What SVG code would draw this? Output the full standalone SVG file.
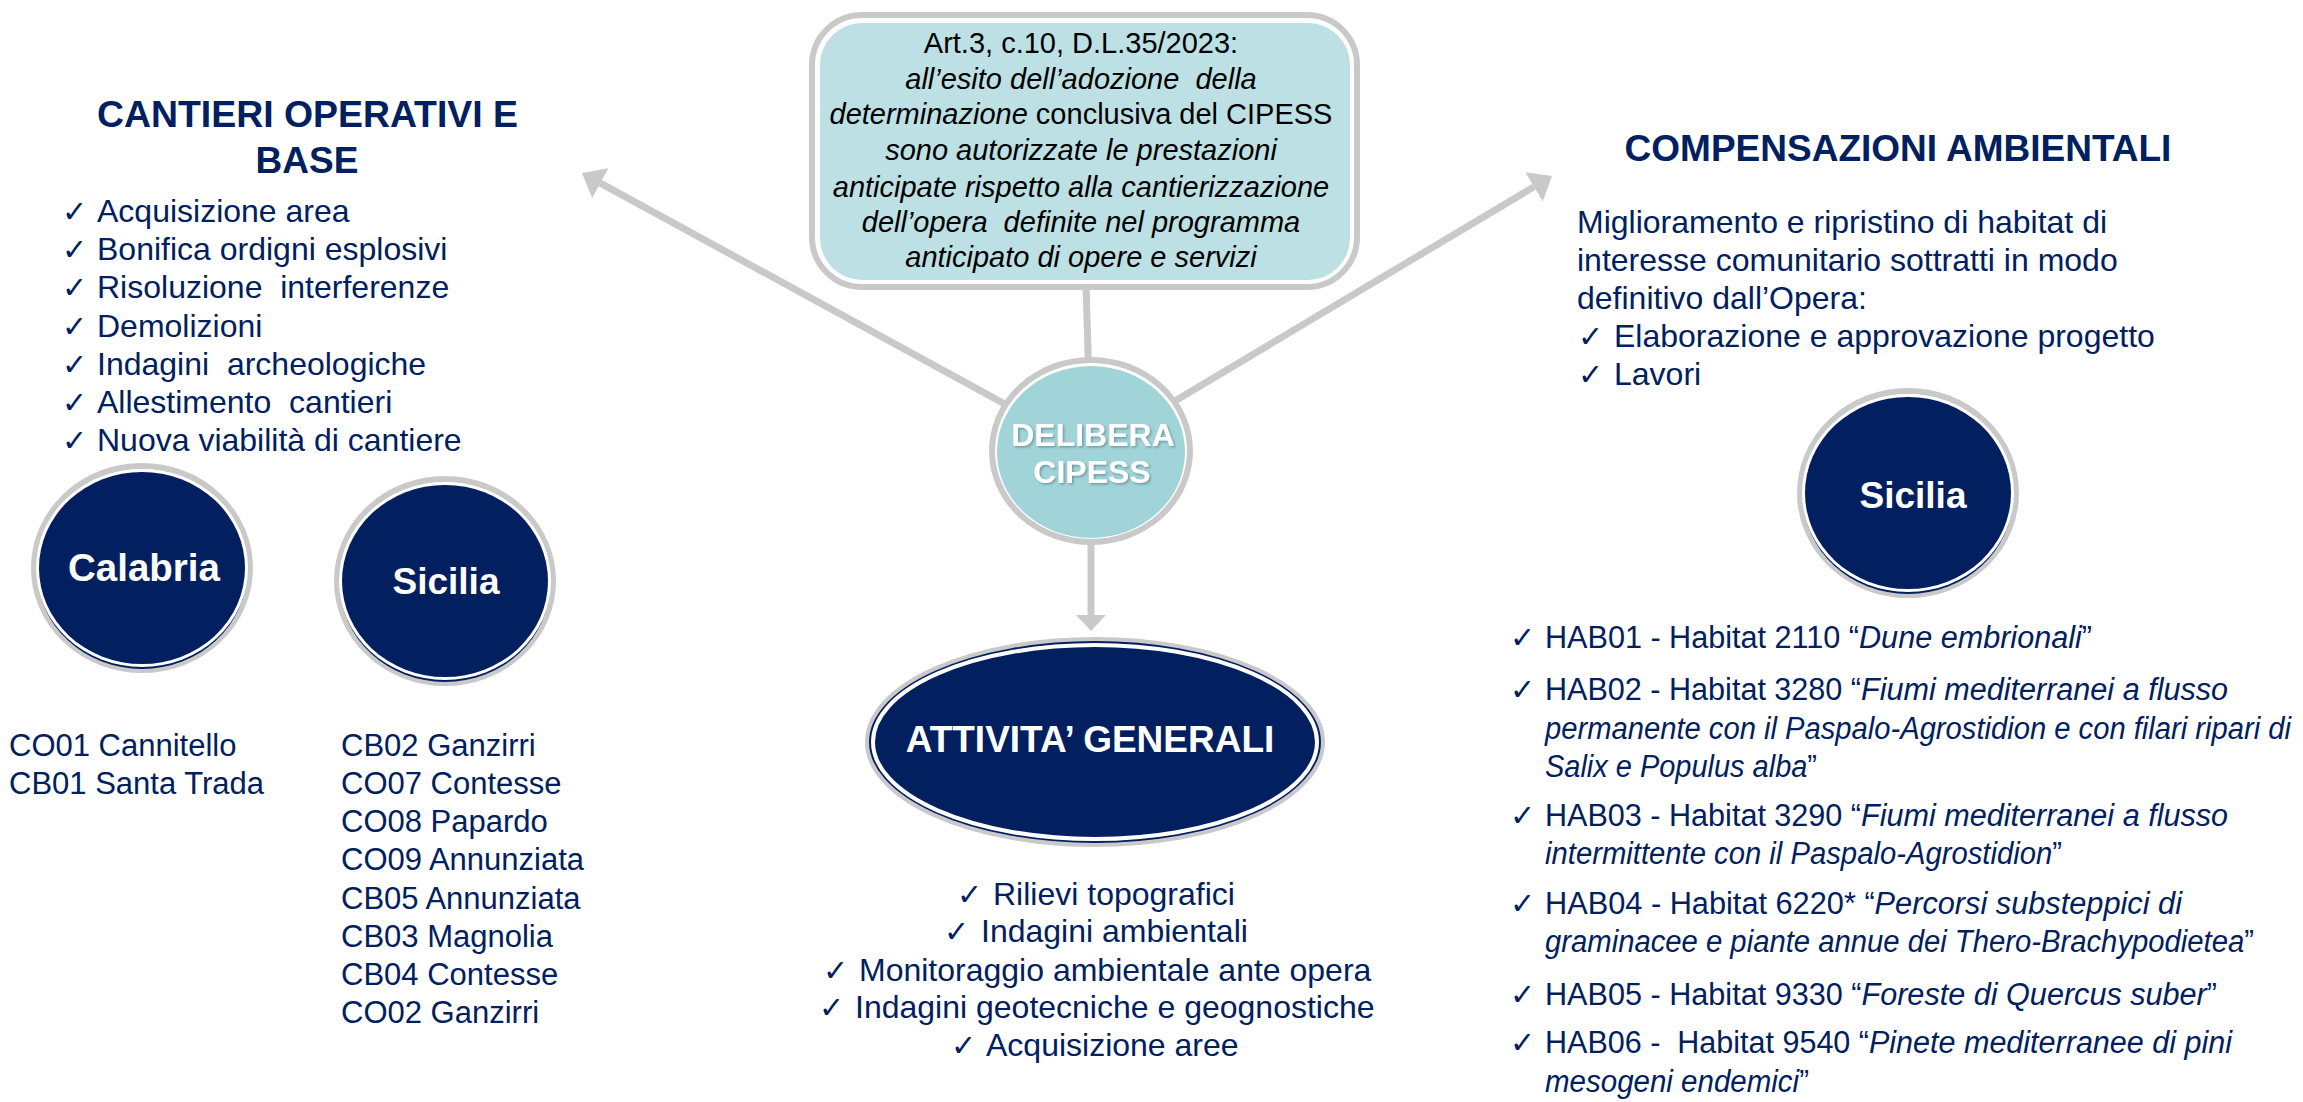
<svg xmlns="http://www.w3.org/2000/svg" width="2303" height="1102" viewBox="0 0 2303 1102">
<style>
  text{font-family:"Liberation Sans",Arial,sans-serif;}
  .ttl{font-size:37px;font-weight:bold;fill:#002060;text-anchor:middle;}
  .li{font-size:32px;fill:#002060;}
  .sm{font-size:31px;fill:#002060;}
  .ck{font-family:"DejaVu Sans",sans-serif;font-size:30px;fill:#002060;}
  .bx{font-size:29px;fill:#000;text-anchor:middle;}
  .it{font-style:italic;}
  .wb{font-weight:bold;fill:#fff;text-anchor:middle;}
  .conn{stroke:#C9C9C9;stroke-width:7;fill:none;}
  .ring{fill:#fff;stroke:#C9C9C9;stroke-width:6;}
  .navy{fill:#022060;}
</style>
<defs>
  <marker id="ah" markerUnits="userSpaceOnUse" markerWidth="24" markerHeight="36" refX="0" refY="17" orient="auto">
    <path d="M0,0 L21,17 L0,34 z" fill="#C9C9C9"/>
  </marker>
  <marker id="ahs" markerUnits="userSpaceOnUse" markerWidth="20" markerHeight="32" refX="0" refY="15" orient="auto">
    <path d="M0,0 L16,15 L0,30 z" fill="#C9C9C9"/>
  </marker>
  <filter id="sh" x="-10%" y="-20%" width="120%" height="140%">
    <feDropShadow dx="1.5" dy="1.5" stdDeviation="1" flood-color="#4a6a70" flood-opacity="0.55"/>
  </filter>
</defs>

<g id="connectors">
  <line class="conn" x1="1086" y1="285" x2="1091" y2="451"/>
  <line class="conn" x1="1091" y1="451" x2="600.4" y2="183.1" marker-end="url(#ah)"/>
  <line class="conn" x1="1091" y1="451" x2="1534" y2="186.8" marker-end="url(#ah)"/>
  <line class="conn" stroke-width="8" x1="1091" y1="451" x2="1091" y2="615" marker-end="url(#ahs)"/>
</g>

<g id="title-cantieri">
  <text class="ttl" x="307.5" y="127" textLength="421" lengthAdjust="spacingAndGlyphs">CANTIERI OPERATIVI E</text>
  <text class="ttl" x="307" y="173">BASE</text>
</g>

<g id="list-cantieri">
  <text class="ck" x="62" y="222">✓</text><text class="li" x="97" y="222">Acquisizione area</text>
  <text class="ck" x="62" y="260">✓</text><text class="li" x="97" y="260">Bonifica ordigni esplosivi</text>
  <text class="ck" x="62" y="298">✓</text><text class="li" x="97" y="298" xml:space="preserve">Risoluzione  interferenze</text>
  <text class="ck" x="62" y="337">✓</text><text class="li" x="97" y="337">Demolizioni</text>
  <text class="ck" x="62" y="375">✓</text><text class="li" x="97" y="375" xml:space="preserve">Indagini  archeologiche</text>
  <text class="ck" x="62" y="413">✓</text><text class="li" x="97" y="413" xml:space="preserve">Allestimento  cantieri</text>
  <text class="ck" x="62" y="451">✓</text><text class="li" x="97" y="451">Nuova viabilità di cantiere</text>
</g>

<g id="node-calabria">
  <ellipse class="ring" cx="142" cy="568" rx="108" ry="102"/>
  <ellipse class="navy" cx="142" cy="571" rx="105" ry="98"/>
  <ellipse fill="#fff" cx="142" cy="568" rx="106" ry="99"/>
  <ellipse class="navy" cx="142" cy="568" rx="103" ry="96"/>
  <text class="wb" x="144" y="581" font-size="38.5">Calabria</text>
</g>

<g id="node-sicilia-cantieri">
  <ellipse class="ring" cx="445" cy="581" rx="108" ry="102"/>
  <ellipse class="navy" cx="445" cy="584" rx="105" ry="98"/>
  <ellipse fill="#fff" cx="445" cy="581" rx="106" ry="99"/>
  <ellipse class="navy" cx="445" cy="581" rx="103" ry="96"/>
  <text class="wb" x="446" y="594" font-size="37">Sicilia</text>
</g>

<g id="list-calabria">
  <text class="sm" x="9" y="756">CO01 Cannitello</text>
  <text class="sm" x="9" y="794">CB01 Santa Trada</text>
</g>

<g id="list-sicilia">
  <text class="sm" x="341" y="756">CB02 Ganzirri</text>
  <text class="sm" x="341" y="794">CO07 Contesse</text>
  <text class="sm" x="341" y="832">CO08 Papardo</text>
  <text class="sm" x="341" y="870">CO09 Annunziata</text>
  <text class="sm" x="341" y="909">CB05 Annunziata</text>
  <text class="sm" x="341" y="947">CB03 Magnolia</text>
  <text class="sm" x="341" y="985">CB04 Contesse</text>
  <text class="sm" x="341" y="1023">CO02 Ganzirri</text>
</g>

<g id="node-normativa">
  <rect x="812" y="15" width="545" height="272" rx="50" fill="#fff" stroke="#C9C9C9" stroke-width="6"/>
  <rect x="820" y="23" width="530" height="257" rx="42" fill="#BCE0E4"/>
  <text class="bx" x="1081" y="53">Art.3, c.10, D.L.35/2023:</text>
  <text class="bx it" x="1081" y="89" xml:space="preserve">all’esito dell’adozione  della</text>
  <text class="bx" x="1081" y="124"><tspan class="it">determinazione</tspan> conclusiva del CIPESS</text>
  <text class="bx it" x="1081" y="160">sono autorizzate le prestazioni</text>
  <text class="bx it" x="1081" y="197">anticipate rispetto alla cantierizzazione</text>
  <text class="bx it" x="1081" y="232" xml:space="preserve">dell’opera  definite nel programma</text>
  <text class="bx it" x="1081" y="267">anticipato di opere e servizi</text>
</g>

<g id="node-delibera">
  <ellipse class="ring" cx="1091" cy="451" rx="99" ry="91"/>
  <ellipse fill="#A0D4D8" cx="1091" cy="452" rx="94" ry="86"/>
  <g filter="url(#sh)">
    <text class="wb" x="1093" y="446" font-size="32">DELIBERA</text>
    <text class="wb" x="1092" y="483" font-size="32">CIPESS</text>
  </g>
</g>

<g id="node-attivita">
  <ellipse class="navy" cx="1095" cy="742" rx="228" ry="103" stroke="#C9C9C9" stroke-width="4"/>
  <ellipse cx="1095" cy="742" rx="222" ry="97" fill="none" stroke="#fff" stroke-width="4"/>
  <text class="wb" x="1090" y="752" font-size="37">ATTIVITA’ GENERALI</text>
</g>

<g id="list-attivita">
  <text class="ck" x="957" y="905">✓</text><text class="li" x="993" y="905">Rilievi topografici</text>
  <text class="ck" x="944" y="942">✓</text><text class="li" x="981" y="942">Indagini ambientali</text>
  <text class="ck" x="823" y="981">✓</text><text class="li" x="859" y="981">Monitoraggio ambientale ante opera</text>
  <text class="ck" x="819" y="1018">✓</text><text class="li" x="855" y="1018">Indagini geotecniche e geognostiche</text>
  <text class="ck" x="951" y="1056">✓</text><text class="li" x="986" y="1056">Acquisizione aree</text>
</g>

<g id="title-compensazioni">
  <text class="ttl" x="1898" y="161">COMPENSAZIONI AMBIENTALI</text>
</g>

<g id="text-compensazioni">
  <text class="li" x="1577" y="233">Miglioramento e ripristino di habitat di</text>
  <text class="li" x="1577" y="271">interesse comunitario sottratti in modo</text>
  <text class="li" x="1577" y="309">definitivo dall’Opera:</text>
  <text class="ck" x="1578" y="347">✓</text><text class="li" x="1614" y="347">Elaborazione e approvazione progetto</text>
  <text class="ck" x="1578" y="385">✓</text><text class="li" x="1614" y="385">Lavori</text>
</g>

<g id="node-sicilia-compensazioni">
  <ellipse class="ring" cx="1908" cy="493" rx="108" ry="102"/>
  <ellipse class="navy" cx="1908" cy="496" rx="105" ry="98"/>
  <ellipse fill="#fff" cx="1908" cy="493" rx="106" ry="99"/>
  <ellipse class="navy" cx="1908" cy="493" rx="103" ry="96"/>
  <text class="wb" x="1913" y="508" font-size="37">Sicilia</text>
</g>

<g id="list-habitat">
  <text class="ck" x="1510" y="648">✓</text>
  <text class="sm" x="1545" y="648" textLength="547" lengthAdjust="spacingAndGlyphs">HAB01 - Habitat 2110 “<tspan class="it">Dune embrionali</tspan>”</text>

  <text class="ck" x="1510" y="700">✓</text>
  <text class="sm" x="1545" y="700" textLength="683" lengthAdjust="spacingAndGlyphs">HAB02 - Habitat 3280 “<tspan class="it">Fiumi mediterranei a flusso</tspan></text>
  <text class="sm it" x="1545" y="739" textLength="746" lengthAdjust="spacingAndGlyphs">permanente con il Paspalo-Agrostidion e con filari ripari di</text>
  <text class="sm" x="1545" y="777" textLength="272" lengthAdjust="spacingAndGlyphs"><tspan class="it">Salix e Populus alba</tspan>”</text>

  <text class="ck" x="1510" y="826">✓</text>
  <text class="sm" x="1545" y="826" textLength="683" lengthAdjust="spacingAndGlyphs">HAB03 - Habitat 3290 “<tspan class="it">Fiumi mediterranei a flusso</tspan></text>
  <text class="sm" x="1545" y="864" textLength="517" lengthAdjust="spacingAndGlyphs"><tspan class="it">intermittente con il Paspalo-Agrostidion</tspan>”</text>

  <text class="ck" x="1510" y="914">✓</text>
  <text class="sm" x="1545" y="914" textLength="637" lengthAdjust="spacingAndGlyphs">HAB04 - Habitat 6220* “<tspan class="it">Percorsi substeppici di</tspan></text>
  <text class="sm" x="1545" y="952" textLength="709" lengthAdjust="spacingAndGlyphs"><tspan class="it">graminacee e piante annue dei Thero-Brachypodietea</tspan>”</text>

  <text class="ck" x="1510" y="1005">✓</text>
  <text class="sm" x="1545" y="1005" textLength="672" lengthAdjust="spacingAndGlyphs">HAB05 - Habitat 9330 “<tspan class="it">Foreste di Quercus suber</tspan>”</text>

  <text class="ck" x="1510" y="1053">✓</text>
  <text class="sm" x="1545" y="1053" textLength="687" lengthAdjust="spacingAndGlyphs" xml:space="preserve">HAB06 -  Habitat 9540 “<tspan class="it">Pinete mediterranee di pini</tspan></text>
  <text class="sm" x="1545" y="1092" textLength="264" lengthAdjust="spacingAndGlyphs"><tspan class="it">mesogeni endemici</tspan>”</text>
</g>
</svg>
